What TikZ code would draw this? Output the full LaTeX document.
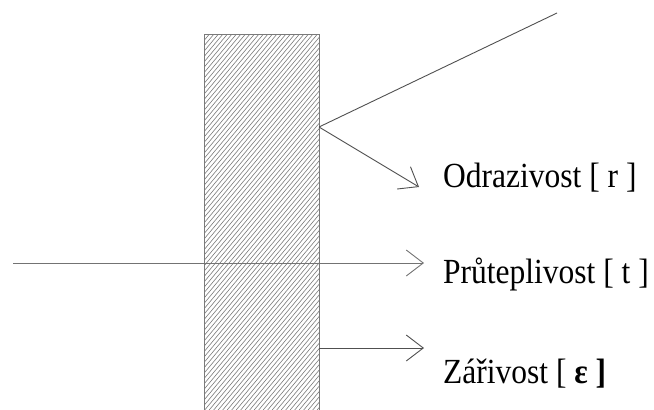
\documentclass[tikz,border=0pt]{standalone}
\usepackage{fontspec}
\setmainfont{Liberation Serif}
\usetikzlibrary{arrows.meta}
\definecolor{ray}{HTML}{505050}
\definecolor{hatch}{HTML}{7A7A7A}
\tikzset{
  rayline/.style={draw=ray, line width=0.9pt},
  rayarrow/.style={rayline, -{Straight Barb[length=17pt,width=26pt,line width=0.9pt]}},
  lbl/.style={anchor=base west, inner sep=0pt, font=\fontsize{31.5}{36}\selectfont},
}
\newcommand{\tallt}[1]{\scalebox{1}[1.12]{#1}}
\begin{document}
\begin{tikzpicture}[x=1pt,y=-1pt]
\useasboundingbox (0,0) rectangle (654,410);
% wall
\begin{scope}
  \clip (204,34) rectangle (319,412);
  \foreach \c in {-112,-107.5,...,322} {
    \draw[hatch, line width=0.6pt] (\c,412) -- ++(317,-378);
  }
\end{scope}
\draw[hatch, line width=0.9pt] (204,412) -- (204,34) -- (319,34) -- (319,412);
% points
\coordinate (src) at (557,13);
\coordinate (hit) at (319,127);
\coordinate (rtip) at (419,187);
\coordinate (tsrc) at (13,263);
\coordinate (ttip) at (424,263);
\coordinate (ehit) at (319,348);
\coordinate (etip) at (424,348);
% rays
\draw[rayline] (src) -- (hit);
\draw[rayarrow] (hit) -- (rtip);
\draw[rayarrow, draw=ray!80] (tsrc) -- (ttip);
\draw[rayarrow] (ehit) -- (etip);
% labels
\node[lbl] (lr) at (443,187) {\tallt{Odrazivost [ r ]}};
\node[lbl] (lt) at (443,283) {\tallt{Průteplivost [ t ]}};
\node[lbl] (le) at (443,383) {\tallt{Zářivost [ \textbf{ε ]}}};
\end{tikzpicture}
\end{document}
